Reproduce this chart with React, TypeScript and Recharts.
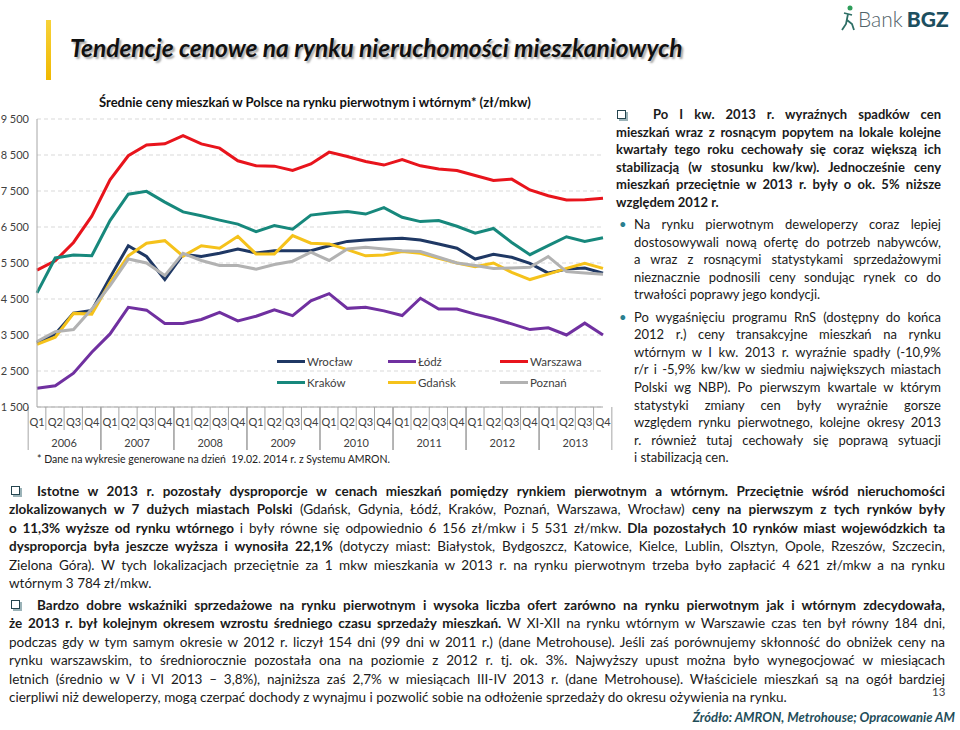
import React from 'react';
import { LineChart, Line, XAxis, YAxis, CartesianGrid } from 'recharts';

const YEARS = ['2006', '2007', '2008', '2009', '2010', '2011', '2012', '2013'];
const QUARTERS = ['Q1', 'Q2', 'Q3', 'Q4'];
const Y_TICKS = [1500, 2500, 3500, 4500, 5500, 6500, 7500, 8500, 9500];

// zł/mkw, 2006 Q1 .. 2013 Q4
const WROCLAW = [3280, 3530, 4110, 4180, 5100, 5980, 5680, 5040, 5740, 5680, 5770, 5890, 5780, 5840, 5840, 5840,
  5980, 6100, 6140, 6170, 6190, 6140, 6030, 5910, 5610, 5740, 5660, 5490, 5220, 5330, 5360, 5220];
const LODZ = [2020, 2090, 2440, 3020, 3530, 4270, 4190, 3820, 3820, 3930, 4130, 3890, 4020, 4200, 4040, 4450,
  4650, 4240, 4270, 4170, 4040, 4520, 4220, 4220, 4080, 3960, 3810, 3650, 3700, 3500, 3830, 3500];
const WARSZAWA = [5300, 5560, 6070, 6800, 7810, 8480, 8780, 8810, 9040, 8810, 8690, 8340, 8200, 8190, 8070, 8250,
  8580, 8460, 8320, 8220, 8370, 8200, 8110, 8070, 7930, 7790, 7830, 7530, 7370, 7250, 7260, 7300];
const KRAKOW = [4670, 5640, 5720, 5700, 6680, 7410, 7490, 7190, 6920, 6810, 6690, 6580, 6370, 6540, 6440, 6830,
  6890, 6930, 6860, 7040, 6770, 6650, 6680, 6520, 6330, 6460, 6070, 5730, 5980, 6230, 6100, 6200];
const GDANSK = [3240, 3440, 4100, 4080, 4960, 5700, 6050, 6120, 5690, 5980, 5910, 6240, 5750, 5750, 6260, 6050,
  6030, 5870, 5700, 5720, 5820, 5770, 5630, 5500, 5400, 5500, 5240, 5040, 5190, 5350, 5490, 5350];
const POZNAN = [3320, 3590, 3650, 4220, 4870, 5610, 5500, 5150, 5770, 5570, 5430, 5430, 5330, 5460, 5550, 5800,
  5570, 5890, 5940, 5890, 5840, 5820, 5660, 5500, 5430, 5350, 5360, 5380, 5680, 5260, 5220, 5190];

const SERIES = [
  { key: 'wroclaw', name: 'Wrocław', color: '#1F3864', values: WROCLAW },
  { key: 'lodz', name: 'Łódź', color: '#7030A0', values: LODZ },
  { key: 'warszawa', name: 'Warszawa', color: '#E8141C', values: WARSZAWA },
  { key: 'krakow', name: 'Kraków', color: '#17887C', values: KRAKOW },
  { key: 'gdansk', name: 'Gdańsk', color: '#F5C21B', values: GDANSK },
  { key: 'poznan', name: 'Poznań', color: '#B2B2B2', values: POZNAN },
];

const data = YEARS.flatMap((yr, yi) =>
  QUARTERS.map((q, qi) => {
    const row: any = { label: `${q} ${yr}` };
    SERIES.forEach((s) => { row[s.key] = s.values[yi * 4 + qi]; });
    return row;
  })
);

const FONT = 'Lato, "Open Sans", sans-serif';
const PLOT_LEFT = 37;
const PLOT_RIGHT = 603;
const BAND = (PLOT_RIGHT - PLOT_LEFT) / data.length;
const AXIS = '#a6a6a6';

const fmt = (v: number) => String(v).replace(/\B(?=(\d{3})+(?!\d))/g, ' ');

const QuarterTick = (props: any) => {
  const { x, y, payload } = props;
  const [q, yr] = String(payload.value).split(' ');
  const h = BAND / 2;
  return (
    <g>
      {q === 'Q1' && <line x1={x - h} x2={x - h} y1={y} y2={y + 43} stroke={AXIS} />}
      <line x1={x + h} x2={x + h} y1={y} y2={y + (q === 'Q4' ? 43 : 23)} stroke={AXIS} />
      <text x={x} y={y + 19} textAnchor="middle" fontSize={11} fill="#404040" fontFamily={FONT}>{q}</text>
      {q === 'Q2' && (
        <text x={x + h} y={y + 40} textAnchor="middle" fontSize={11} fill="#404040" fontFamily={FONT}>{yr}</text>
      )}
    </g>
  );
};

const LEGEND_POS = [
  { x: 277, y: 361 }, { x: 388, y: 361 }, { x: 500, y: 361 },
  { x: 277, y: 382 }, { x: 388, y: 382 }, { x: 500, y: 382 },
];

type Seg = [string, boolean];

const LineRow = ({ segs, last, lh, indent = 0 }: { segs: Seg[]; last?: boolean; lh: number; indent?: number }) => (
  <div style={{ height: lh, lineHeight: `${lh}px`, textAlign: 'justify', textAlignLast: last ? 'left' : 'justify', paddingLeft: indent, overflow: 'visible' } as any}>
    {segs.map(([t, b], i) => <span key={i} style={{ fontWeight: b ? 700 : 400 }}>{t}</span>)}
  </div>
);

const Box = ({ x, y }: { x: number; y: number }) => (
  <div style={{ position: 'absolute', left: x, top: y, width: 7, height: 7, border: '1.5px solid #25454f', boxShadow: '2px 2px 0 #9bb3b8', background: '#fff' }} />
);

const RIGHT_A: string[] = [
  'Po I kw. 2013 r. wyraźnych spadków cen',
  'mieszkań wraz z rosnącym popytem na lokale kolejne',
  'kwartały tego roku cechowały się coraz większą ich',
  'stabilizacją (w stosunku kw/kw). Jednocześnie ceny',
  'mieszkań przeciętnie w 2013 r. były o ok. 5% niższe',
  'względem 2012 r.',
];
const RIGHT_B: string[] = [
  'Na rynku pierwotnym deweloperzy coraz lepiej',
  'dostosowywali nową ofertę do potrzeb nabywców,',
  'a wraz z rosnącymi statystykami sprzedażowymi',
  'nieznacznie podnosili ceny sondując rynek co do',
  'trwałości poprawy jego kondycji.',
];
const RIGHT_C: string[] = [
  'Po wygaśnięciu programu RnS (dostępny do końca',
  '2012 r.) ceny transakcyjne mieszkań na rynku',
  'wtórnym w I kw. 2013 r. wyraźnie spadły (-10,9%',
  'r/r i -5,9% kw/kw w siedmiu największych miastach',
  'Polski wg NBP). Po pierwszym kwartale w którym',
  'statystyki zmiany cen były wyraźnie gorsze',
  'względem rynku pierwotnego, kolejne okresy 2013',
  'r. również tutaj cechowały się poprawą sytuacji',
  'i stabilizacją cen.',
];

const BOTTOM_1: Seg[][] = [
  [['Istotne w 2013 r. pozostały dysproporcje w cenach mieszkań pomiędzy rynkiem pierwotnym a wtórnym. Przeciętnie wśród nieruchomości', true]],
  [['zlokalizowanych w 7 dużych miastach Polski', true], [' (Gdańsk, Gdynia, Łódź, Kraków, Poznań, Warszawa, Wrocław) ', false], ['ceny na pierwszym z tych rynków były', true]],
  [['o 11,3% wyższe od rynku wtórnego', true], [' i były równe się odpowiednio 6 156 zł/mkw i 5 531 zł/mkw. ', false], ['Dla pozostałych 10 rynków miast wojewódzkich ta', true]],
  [['dysproporcja była jeszcze wyższa i wynosiła 22,1%', true], [' (dotyczy miast: Białystok, Bydgoszcz, Katowice, Kielce, Lublin, Olsztyn, Opole, Rzeszów, Szczecin,', false]],
  [['Zielona Góra). W tych lokalizacjach przeciętnie za 1 mkw mieszkania w 2013 r. na rynku pierwotnym trzeba było zapłacić 4 621 zł/mkw a na rynku', false]],
  [['wtórnym 3 784 zł/mkw.', false]],
];
const BOTTOM_2: Seg[][] = [
  [['Bardzo dobre wskaźniki sprzedażowe na rynku pierwotnym i wysoka liczba ofert zarówno na rynku pierwotnym jak i wtórnym zdecydowała,', true]],
  [['że 2013 r. był kolejnym okresem wzrostu średniego czasu sprzedaży mieszkań.', true], [' W XI-XII na rynku wtórnym w Warszawie czas ten był równy 184 dni,', false]],
  [['podczas gdy w tym samym okresie w 2012 r. liczył 154 dni (99 dni w 2011 r.) (dane Metrohouse). Jeśli zaś porównujemy skłonność do obniżek ceny na', false]],
  [['rynku warszawskim, to średniorocznie pozostała ona na poziomie z 2012 r. tj. ok. 3%. Najwyższy upust można było wynegocjować w miesiącach', false]],
  [['letnich (średnio w V i VI 2013 – 3,8%), najniższa zaś 2,7% w miesiącach III-IV 2013 r. (dane Metrohouse). Właściciele mieszkań są na ogół bardziej', false]],
  [['cierpliwi niż deweloperzy, mogą czerpać dochody z wynajmu i pozwolić sobie na odłożenie sprzedaży do okresu ożywienia na rynku.', false]],
];

export default function App() {
  const RLH = 17.6;
  const BLH = 18.4;
  return (
    <div style={{ position: 'absolute', left: 0, top: 0, width: 960, height: 730, background: '#fff', fontFamily: FONT, color: '#1a1a1a', overflow: 'hidden' }}>
      {/* header */}
      <div style={{ position: 'absolute', left: 46, top: 20, width: 5, height: 60, background: 'linear-gradient(#f7d23a, #f0b800)' }} />
      <div style={{ position: 'absolute', left: 70, top: 33, fontSize: 24.5, fontWeight: 700, fontStyle: 'italic', color: '#111', textShadow: '2px 2px 2px rgba(0,0,0,0.35)', whiteSpace: 'nowrap' }}>
        Tendencje cenowe na rynku nieruchomości mieszkaniowych
      </div>
      <div style={{ position: 'absolute', left: 840, top: 4, display: 'flex', alignItems: 'center', whiteSpace: 'nowrap' }}>
        <svg width={16} height={28} viewBox="0 0 16 28">
          <circle cx={10} cy={4} r={2.5} fill="#2e9d5a" />
          <path d="M4 9 L12 11 M8 10 L6 20 L2 26 M7 16 L12 20 L14 26" stroke="#2e6f66" strokeWidth={1.8} fill="none" />
        </svg>
        <span style={{ fontSize: 21, fontWeight: 300, color: '#52636a', marginLeft: 2 }}>Bank</span>
        <span style={{ fontSize: 21, fontWeight: 900, color: '#1d4f60', marginLeft: 4 }}>BGZ</span>
      </div>

      {/* chart */}
      <div style={{ position: 'absolute', left: 99, top: 94, fontSize: 13, fontWeight: 700, color: '#111', whiteSpace: 'nowrap' }}>
        Średnie ceny mieszkań w Polsce na rynku pierwotnym i wtórnym* (zł/mkw)
      </div>
      <div style={{ position: 'absolute', left: 0, top: 110 }}>
        <LineChart width={615} height={350} data={data} margin={{ top: 9, right: 12, bottom: 8, left: 0 }}>
          <CartesianGrid vertical={false} stroke="#d9d9d9" strokeDasharray="4 3" />
          <XAxis dataKey="label" interval={0} tickLine={false} tickSize={0} tickMargin={0} height={45}
            axisLine={{ stroke: AXIS }} tick={<QuarterTick />} />
          <YAxis width={37} domain={[1500, 9500]} ticks={Y_TICKS} tickLine={false} axisLine={{ stroke: AXIS }}
            tickFormatter={fmt} tick={{ fontSize: 11, fill: '#404040', fontFamily: FONT }} />
          {SERIES.map((s) => (
            <Line key={s.key} dataKey={s.key} name={s.name} stroke={s.color} strokeWidth={3} dot={false}
              type="linear" isAnimationActive={false} />
          ))}
        </LineChart>
      </div>
      {SERIES.map((s, i) => (
        <div key={s.key} style={{ position: 'absolute', left: LEGEND_POS[i].x, top: LEGEND_POS[i].y - 8, height: 16, display: 'flex', alignItems: 'center', fontSize: 11.5, color: '#404040', whiteSpace: 'nowrap' }}>
          <div style={{ width: 28, height: 3, background: s.color, marginRight: 2 }} />
          {s.name}
        </div>
      ))}
      <div style={{ position: 'absolute', left: 37, top: 453, fontSize: 10.5, color: '#222', whiteSpace: 'nowrap' }}>
        * Dane na wykresie generowane na dzień&nbsp; 19.02. 2014 r. z Systemu AMRON.
      </div>

      {/* right column */}
      <Box x={617} y={110} />
      <div style={{ position: 'absolute', left: 616, top: 106, width: 325, fontSize: 13 }}>
        {RIGHT_A.map((t, i) => (
          <LineRow key={i} segs={[[t, true]]} lh={RLH} last={i === RIGHT_A.length - 1} indent={i === 0 ? 37 : 0} />
        ))}
        <div style={{ height: 4.5 }} />
        {RIGHT_B.map((t, i) => (
          <div key={i} style={{ position: 'relative' }}>
            {i === 0 && <span style={{ position: 'absolute', left: 3, top: 0, lineHeight: `${RLH}px`, color: '#2a7f8f' }}>•</span>}
            <LineRow segs={[[t, false]]} lh={RLH} last={i === RIGHT_B.length - 1} indent={18} />
          </div>
        ))}
        <div style={{ height: 4.5 }} />
        {RIGHT_C.map((t, i) => (
          <div key={i} style={{ position: 'relative' }}>
            {i === 0 && <span style={{ position: 'absolute', left: 3, top: 0, lineHeight: `${RLH}px`, color: '#2a7f8f' }}>•</span>}
            <LineRow segs={[[t, false]]} lh={RLH} last={i === RIGHT_C.length - 1} indent={18} />
          </div>
        ))}
      </div>

      {/* bottom text */}
      <Box x={11} y={486} />
      <Box x={11} y={600} />
      <div style={{ position: 'absolute', left: 9, top: 482, width: 936, fontSize: 13.5 }}>
        {BOTTOM_1.map((segs, i) => (
          <LineRow key={i} segs={segs} lh={BLH} last={i === BOTTOM_1.length - 1} indent={i === 0 ? 28 : 0} />
        ))}
        <div style={{ height: 3.6 }} />
        {BOTTOM_2.map((segs, i) => (
          <LineRow key={i} segs={segs} lh={BLH} last={i === BOTTOM_2.length - 1} indent={i === 0 ? 28 : 0} />
        ))}
      </div>
      <div style={{ position: 'absolute', left: 932, top: 686, fontSize: 11.5, lineHeight: '12px', color: '#444' }}>13</div>
      <div style={{ position: 'absolute', right: 5, top: 709, fontSize: 13, fontWeight: 700, fontStyle: 'italic', color: '#1f4e5a', whiteSpace: 'nowrap' }}>
        Źródło: AMRON, Metrohouse; Opracowanie AM
      </div>
    </div>
  );
}
